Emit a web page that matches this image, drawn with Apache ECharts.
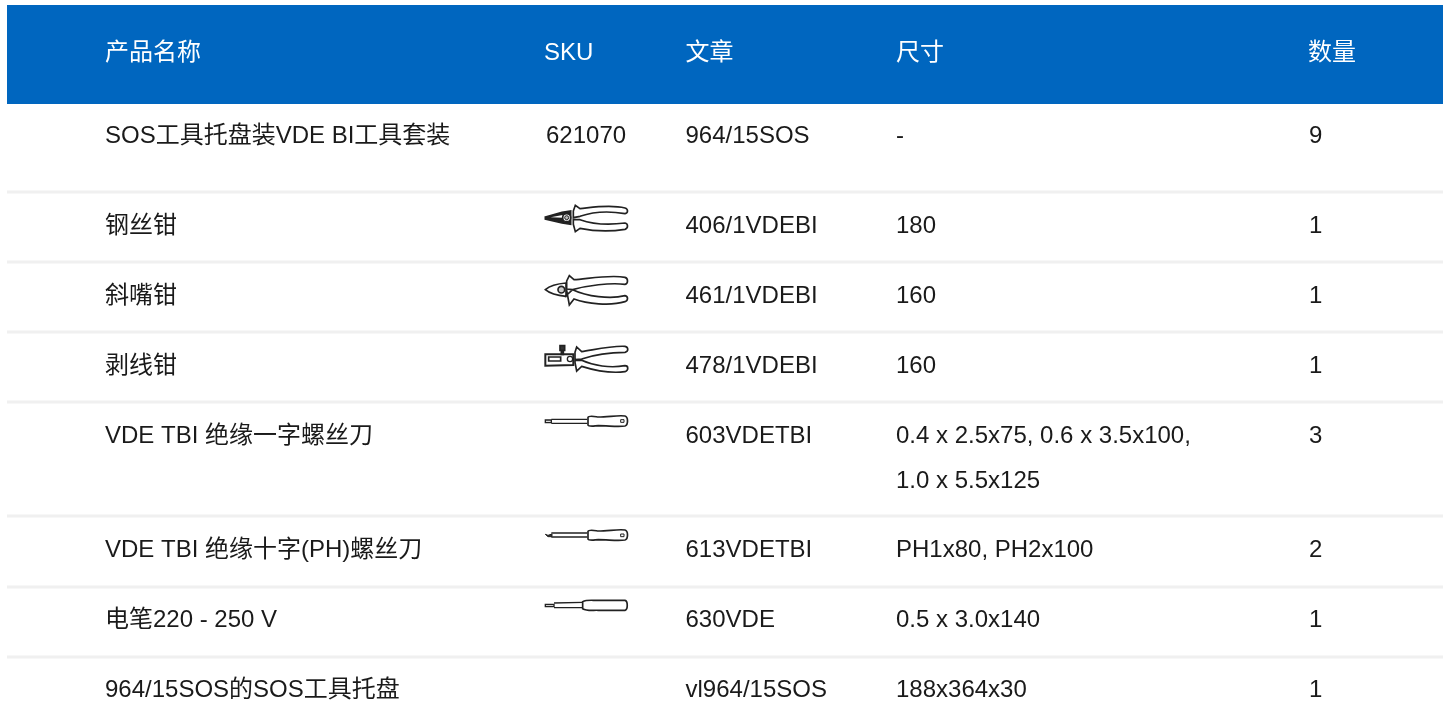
<!DOCTYPE html>
<html><head><meta charset="utf-8">
<style>html,body{margin:0;padding:0;background:#fff}#c{width:1452px;height:724px}</style>
<script src="https://cdn.jsdelivr.net/npm/echarts@6/dist/echarts.min.js"></script>
</head><body><div id="c"></div>
<script>
// ---- table content ----
var headers = ['产品名称','SKU','文章','尺寸','数量'];
var names = ['SOS工具托盘装VDE BI工具套装','钢丝钳','斜嘴钳','剥线钳','VDE TBI 绝缘一字螺丝刀','VDE TBI 绝缘十字(PH)螺丝刀','电笔220 - 250 V','964/15SOS的SOS工具托盘'];
var skus = ['621070','','','','','','',''];
var icons = ['','combi','cutter','stripper','slot','phillips','tester',''];
var articles = ['964/15SOS','406/1VDEBI','461/1VDEBI','478/1VDEBI','603VDETBI','613VDETBI','630VDE','vl964/15SOS'];
var sizes = ['-','180','160','160',['0.4 x 2.5x75, 0.6 x 3.5x100,','1.0 x 5.5x125'],'PH1x80, PH2x100','0.5 x 3.0x140','188x364x30'];
var quantities = ['9','1','1','1','3','2','1','1'];

// ---- layout (page pixels used as axis units) ----
var colX = [105,544,685.5,896,1308];
var rowY = [136.5,226.5,296.5,366.5,436.5,550.5,620.5,690.5];
var headerY = 53.5;
var rules = [192,262,332,402,516,587,657];
var iconTop = [0,195,265,335,405,520,590,0];
var FONT = '"Liberation Sans","Noto Sans CJK SC",sans-serif';
var INK = '#1a1a1a';

// icon glyphs, drawn in a 360-wide box at 3x
var jawHandles = 'M130 48 L136 31 L150 41 C190 37 240 28 285 39 C295 42 295 54 285 56 C240 48 190 50 150 64 L130 68 Z '+
                 'M130 88 L136 110 L150 100 C190 108 240 110 285 103 C295 100 295 86 285 84 C240 90 190 88 150 74 L130 74 Z';
var glyphs = {
 combi: [{d:jawHandles},{d:'M46 66 L96 52 L122 48 L122 88 L96 84 L46 72 Z',f:'#222'},{d:'M62 67 L98 60 L98 68 Z',f:'#fff',n:1},{d:'M98 68 a12 12 0 1 0 24 0 a12 12 0 1 0 -24 0 Z',f:'#fff'},{d:'M104 68 a6 6 0 1 0 12 0 a6 6 0 1 0 -12 0 Z',f:'#bbb',w:3}],
 cutter:[{d:'M110 48 L118 32 L132 44 C170 42 240 28 285 37 C295 40 295 56 285 58 C240 52 170 62 128 74 L110 72 Z '+
            'M110 76 L118 120 L132 102 C170 116 240 124 285 110 C295 106 295 94 285 92 C240 104 170 94 128 74 L108 92 Z'},
         {d:'M46 74 C60 62 85 56 108 54 L108 94 C85 92 60 86 46 74 Z',f:'#fff'},{d:'M84 74 a10 10 0 1 0 20 0 a10 10 0 1 0 -20 0 Z',f:'#ccc'}],
 stripper:[{d:'M135 52 L140 36 L155 50 C190 45 240 32 285 34 C296 36 296 50 285 52 C240 52 190 60 155 72 L135 74 Z '+
              'M135 82 L140 108 L155 94 C190 105 240 116 285 110 C296 106 296 92 285 92 C240 100 190 92 155 76 L135 76 Z'},
           {d:'M46 58 L130 58 L130 90 L46 92 Z',f:'#fff',w:6},{d:'M56 66 L92 66 L92 78 L56 78 Z',f:'#fff',w:5},{d:'M90 32 L104 32 L104 46 L90 46 Z M94 46 L94 58 L100 58 L100 46 Z',f:'#333'},{d:'M112 72 a8 8 0 1 0 16 0 a8 8 0 1 0 -16 0 Z',f:'#fff',w:4}],
 slot:  [{d:'M46 45 L64 45 L64 53 L46 53 Z',f:'#ddd',w:4},{d:'M64 43 L172 43 M64 55 L172 55',w:4},
         {d:'M174 37 C176 31 190 34 205 36 C235 36 265 30 285 33 C295 36 295 60 285 63 C265 67 235 62 205 62 C190 63 176 66 174 60 Z',f:'#fff'},{d:'M272 44 L282 44 L282 52 L272 52 Z',f:'#fff',w:3}],
 phillips:[{d:'M46 43 L54 46 L66 42 L66 50 L54 50 Z',f:'#333',w:3},{d:'M64 39 L172 39 M64 51 L172 51',w:4},
         {d:'M174 34 C176 28 190 31 205 33 C235 33 265 27 285 30 C295 33 295 57 285 60 C265 64 235 59 205 59 C190 60 176 63 174 57 Z',f:'#fff'},{d:'M272 42 L282 42 L282 50 L272 50 Z',f:'#fff',w:3}],
 tester:[{d:'M46 43 L72 43 L72 50 L46 50 Z',f:'#ccc',w:4},{d:'M72 39 L158 37 M72 53 L158 53',w:4},
         {d:'M158 35 C172 28 190 32 205 31 L285 31 C294 33 294 59 285 61 L205 61 C190 60 172 64 158 56 Z',f:'#fff'},{d:'M276 31 L276 61',w:3}]
};

// ---- flatten into library data ----
var textRows = [];
function addText(x,y,t,c){ textRows.push([x,y,t,c]); }
headers.forEach(function(h,i){ addText(colX[i],headerY,h,'#ffffff'); });
names.forEach(function(n,i){
  var y=rowY[i];
  addText(colX[0],y,n,INK);
  if(skus[i]) addText(colX[1]+2,y,skus[i],INK);
  addText(colX[2],y,articles[i],INK);
  var s=sizes[i];
  if(Array.isArray(s)){ addText(colX[3],y,s[0],INK); addText(colX[3],y+45,s[1],INK);} else addText(colX[3],y,s,INK);
  addText(colX[4]+1,y,quantities[i],INK);
});
var iconRows = icons.map(function(k,i){return [530,iconTop[i],k];}).filter(function(r){return r[2];});

function glyphShape(d){
  var b=echarts.graphic.makePath(d,{}).getBoundingRect();
  return {pathData:d,layout:'cover',x:b.x,y:b.y,width:b.width,height:b.height};
}

var chart = echarts.init(document.getElementById('c'),null,{renderer:'canvas'});
chart.setOption({
  animation:false,
  backgroundColor:'#ffffff',
  grid:{left:0,right:0,top:0,bottom:0},
  xAxis:{type:'value',min:0,max:1452,show:false},
  yAxis:{type:'value',min:0,max:724,inverse:true,show:false},
  series:[
   {type:'custom',silent:true,data:[[7,5,1443,104]],encode:{x:[0,2],y:[1,3]},clip:false,
    renderItem:function(p,api){
      var a=api.coord([api.value(0),api.value(1)]),b=api.coord([api.value(2),api.value(3)]);
      return {type:'rect',shape:{x:a[0],y:a[1],width:b[0]-a[0],height:b[1]-a[1]},style:{fill:'#0066bf'}};
    }},
   {type:'custom',silent:true,data:rules.map(function(y){return [7,y];}),encode:{x:0,y:1},
    renderItem:function(p,api){
      var a=api.coord([api.value(0),api.value(1)]),b=api.coord([1443,api.value(1)]);
      return {type:'rect',shape:{x:a[0],y:a[1]-1.5,width:b[0]-a[0],height:3},style:{fill:'#f0f0f0'}};
    }},
   {type:'custom',silent:true,data:iconRows,encode:{x:0,y:1},
    renderItem:function(p,api){
      var a=api.coord([api.value(0),api.value(1)]);
      var kids=glyphs[iconRows[p.dataIndex][2]].map(function(g){
        return {type:'path',shape:glyphShape(g.d),
          style:{fill:g.f||'#fff',stroke:g.n?null:'#222',lineWidth:g.w||5}};
      });
      return {type:'group',x:a[0],y:a[1],scaleX:1/3,scaleY:1/3,children:kids};
    }},
   {type:'custom',silent:true,data:textRows,encode:{x:0,y:1},
    renderItem:function(p,api){
      var r=textRows[p.dataIndex],a=api.coord([r[0],r[1]]);
      return {type:'text',x:a[0],y:a[1],style:{text:r[2],fill:r[3],font:'24px '+FONT,textAlign:'left',textVerticalAlign:'middle',verticalAlign:'middle'}};
    }}
  ]
});
</script></body></html>
